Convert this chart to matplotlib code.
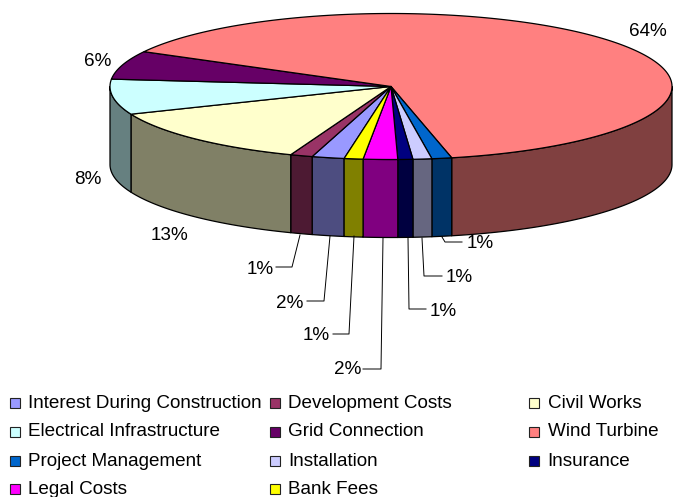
import numpy as np
import matplotlib
matplotlib.use("Agg")
import matplotlib.pyplot as plt
from matplotlib.patches import Polygon, Rectangle

plt.rcParams['font.family'] = ['Liberation Sans', 'DejaVu Sans']

categories = ["Interest During Construction", "Development Costs", "Civil Works",
              "Electrical Infrastructure", "Grid Connection", "Wind Turbine",
              "Project Management", "Installation", "Insurance",
              "Legal Costs", "Bank Fees"]
values = [1.86, 1.28, 13.0, 7.8, 6.3, 63.6, 1.14, 1.08, 0.86, 1.97, 1.08]
pct_labels = ["2%", "1%", "13%", "8%", "6%", "64%", "1%", "1%", "1%", "2%", "1%"]
top_colors = ["#9999FF", "#993366", "#FFFFCC", "#CCFFFF", "#660066", "#FF8080",
              "#0066CC", "#CCCCFF", "#000080", "#FF00FF", "#FFFF00"]
side_colors = ["#4D4D80", "#4D1A33", "#808066", "#668080", "#330033", "#804040",
               "#003366", "#666680", "#000040", "#800080", "#808000"]

# pie geometry (pixels)
CX, CY, RX, RY, DEPTH = 391.0, 86.5, 281.0, 73.0, 78.0
START = 99.6

# label anchor (x, y) and optional leader polyline, per slice
label_pos = [(290, 304), (260, 269), (169, 236), (88, 179), (98, 62), (648, 32),
             (480, 244), (459, 278), (443, 312), (348, 370), (316, 336)]
leaders = [[(330, 236), (324, 301), (307, 301)],
           [(300, 235), (292, 267), (276, 267)],
           None, None, None, None,
           [(442, 237), (445, 242), (462, 242)],
           [(422, 238), (424, 276), (442, 276)],
           [(408, 238), (409, 309), (426, 309)],
           [(383, 238), (381, 369), (363, 369)],
           [(354, 236), (349, 334), (333, 334)]]

legend_cols = [15, 275, 534]
legend_rows = [403, 432, 461, 489]

fig = plt.figure(figsize=(6.73, 4.97), dpi=100)
ax = fig.add_axes([0, 0, 1, 1])
ax.set_xlim(0, 673)
ax.set_ylim(497, 0)
ax.axis("off")

fracs = np.array(values) / np.sum(values) * 360.0
edges = START + np.concatenate([[0], np.cumsum(fracs)])


def rim(t, dy=0.0):
    r = np.radians(t)
    return np.column_stack([CX + RX * np.cos(r), CY + RY * np.sin(r) + dy])


# walls: only the parts of the rim facing the viewer (0..180 deg, modulo 360)
for a0, a1, col in zip(edges[:-1], edges[1:], side_colors):
    for shift in (0, -360):
        lo, hi = max(a0 + shift, 0), min(a1 + shift, 180)
        if hi > lo:
            t = np.linspace(lo, hi, 120)
            pts = np.vstack([rim(t), rim(t[::-1], DEPTH)])
            ax.add_patch(Polygon(pts, closed=True, fc=col, ec="black", lw=0.9,
                                 joinstyle="round", zorder=2))

# top faces
for a0, a1, col in zip(edges[:-1], edges[1:], top_colors):
    t = np.linspace(a0, a1, max(int(a1 - a0) * 3, 8))
    pts = np.vstack([[CX, CY], rim(t)])
    ax.add_patch(Polygon(pts, closed=True, fc=col, ec="black", lw=0.9,
                         joinstyle="round", zorder=3))

# percentage labels and leader lines
FS = 13.6
for txt, (x, y), lead in zip(pct_labels, label_pos, leaders):
    ax.text(x, y, txt, fontsize=FS, ha="center", va="center", color="black", zorder=5)
    if lead is not None:
        xs, ys = zip(*lead)
        ax.plot(xs, ys, color="black", lw=0.7, zorder=4)

# legend
for i, (name, col) in enumerate(zip(categories, top_colors)):
    x = legend_cols[i % 3]
    y = legend_rows[i // 3]
    ax.add_patch(Rectangle((x - 5, y - 5), 10, 10, fc=col, ec="#222222", lw=0.8, zorder=4))
    ax.text(x + 13.5, y, name, fontsize=FS, ha="left", va="center", color="black", zorder=5)

fig.savefig("out.png", dpi=100)
